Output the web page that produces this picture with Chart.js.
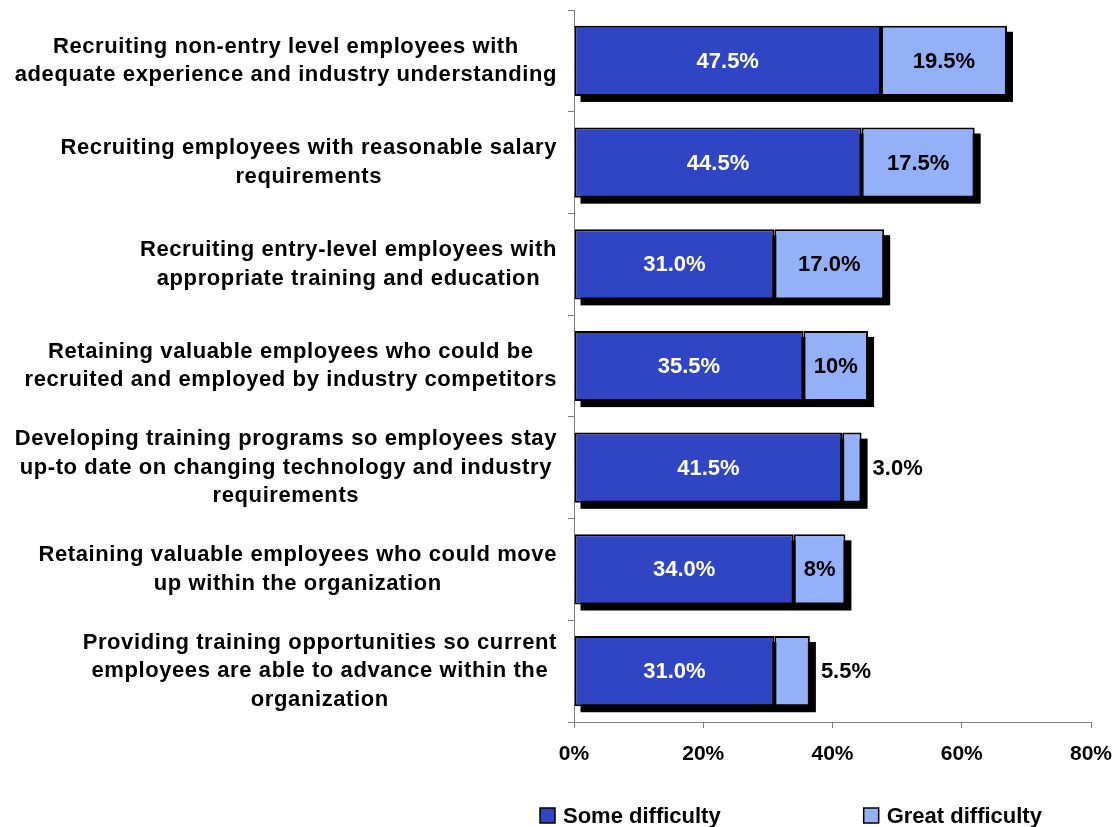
<!DOCTYPE html>
<html><head><meta charset="utf-8">
<script src="https://cdn.jsdelivr.net/npm/chart.js@4/dist/chart.umd.min.js"></script>
<style>html,body{margin:0;padding:0;background:#fff}</style>
</head><body>
<canvas id="c" width="1113" height="827"></canvas>
<script>
const categories = [
  ["Recruiting non-entry level employees with", "adequate experience and industry understanding"],
  ["Recruiting employees with reasonable salary", "requirements"],
  ["Recruiting entry-level employees with", "appropriate training and education"],
  ["Retaining valuable employees who could be", "recruited and employed by industry competitors"],
  ["Developing training programs so employees stay", "up-to date on changing technology and industry", "requirements"],
  ["Retaining valuable employees who could move", "up within the organization"],
  ["Providing training opportunities so current", "employees are able to advance within the", "organization"]
];
const someDifficulty = [47.5, 44.5, 31.0, 35.5, 41.5, 34.0, 31.0];
const greatDifficulty = [19.5, 17.5, 17.0, 10, 3.0, 8, 5.5];
const someLabels = ["47.5%", "44.5%", "31.0%", "35.5%", "41.5%", "34.0%", "31.0%"];
const greatLabels = ["19.5%", "17.5%", "17.0%", "10%", "3.0%", "8%", "5.5%"];
const seriesNames = ["Some difficulty", "Great difficulty"];
const xMin = 0, xMax = 80, xStep = 20;

const FONT = '"Liberation Sans", Arial, sans-serif';
const DARK = '#3045C4';
const LIGHT = '#93B0F8';
const AXIS = '#808080';

const decor = {
  id: 'decor',
  beforeDatasetsDraw(chart) {
    const ctx = chart.ctx;
    const m0 = chart.getDatasetMeta(0), m1 = chart.getDatasetMeta(1);
    ctx.save();
    ctx.fillStyle = '#000';
    m0.data.forEach((el, i) => {
      const end = m1.data[i];
      const left = el.base, right = end.x;
      const top = el.y - el.height / 2, h = el.height;
      ctx.fillRect(left + 6, top + 6, right - left, h);
    });
    ctx.restore();
  },
  afterDatasetsDraw(chart) {
    const ctx = chart.ctx;
    const m0 = chart.getDatasetMeta(0), m1 = chart.getDatasetMeta(1);
    ctx.save();
    ctx.font = 'bold 22px ' + FONT;
    ctx.textBaseline = 'middle';
    const sets = [[m0, someLabels, '#fff'], [m1, greatLabels, '#000']];
    sets.forEach(([meta, labels, color]) => {
      meta.data.forEach((el, i) => {
        const txt = labels[i];
        const w = ctx.measureText(txt).width;
        const segW = Math.abs(el.x - el.base);
        if (w + 8 < segW) {
          ctx.fillStyle = color;
          ctx.textAlign = 'center';
          ctx.fillText(txt, (el.x + el.base) / 2, el.y + 1);
        } else {
          ctx.fillStyle = '#000';
          ctx.textAlign = 'left';
          ctx.fillText(txt, m1.data[i].x + 11, el.y + 1);
        }
      });
    });
    ctx.restore();
  },
  afterDraw(chart) {
    const ctx = chart.ctx;
    const ys = chart.scales.y;
    const area = chart.chartArea;
    ctx.save();
    ctx.font = 'bold 22px ' + FONT;
    ctx.letterSpacing = '0.6px';
    ctx.fillStyle = '#000';
    ctx.textAlign = 'center';
    ctx.textBaseline = 'middle';
    const lineH = 28.5;
    const rightEdge = area.left - 17;
    categories.forEach((lines, i) => {
      const yc = ys.getPixelForValue(i);
      const bw = Math.max(...lines.map(l => ctx.measureText(l).width));
      const cx = rightEdge - bw / 2;
      const y0 = yc - (lines.length - 1) * lineH / 2;
      lines.forEach((l, k) => ctx.fillText(l, cx, y0 + k * lineH));
    });
    // legend
    ctx.font = 'bold 22px ' + FONT;
    ctx.letterSpacing = '0px';
    ctx.textAlign = 'left';
    const colors = [DARK, LIGHT];
    let x = 540;
    const yL = 815.5;
    seriesNames.forEach((name, k) => {
      ctx.fillStyle = colors[k];
      ctx.fillRect(x, yL - 7.5, 15, 15);
      ctx.strokeStyle = '#000';
      ctx.lineWidth = 1.5;
      ctx.strokeRect(x, yL - 7.5, 15, 15);
      ctx.fillStyle = '#000';
      ctx.fillText(name, x + 23, yL + 1);
      x += 23 + ctx.measureText(name).width + 143;
    });
    ctx.restore();
  }
};

new Chart(document.getElementById('c'), {
  type: 'bar',
  data: {
    labels: categories,
    datasets: [
      { label: seriesNames[0], data: someDifficulty, backgroundColor: DARK, borderColor: '#000', borderWidth: 2, borderSkipped: false },
      { label: seriesNames[1], data: greatDifficulty, backgroundColor: LIGHT, borderColor: '#000', borderWidth: 2, borderSkipped: false }
    ]
  },
  options: {
    indexAxis: 'y',
    responsive: false,
    animation: false,
    events: [],
    layout: { padding: { top: 10, right: 22, left: 0, bottom: 0 } },
    datasets: { bar: { barPercentage: 0.69, categoryPercentage: 1 } },
    plugins: { legend: { display: false }, tooltip: { enabled: false } },
    scales: {
      x: {
        stacked: true, min: xMin, max: xMax,
        afterFit(s) { s.height = 105; s.paddingLeft = 0; s.paddingRight = 0; },
        ticks: { stepSize: xStep, callback: v => v + '%', color: '#000', font: { family: FONT, weight: 'bold', size: 21 }, padding: 14, maxRotation: 0 },
        grid: { drawOnChartArea: false, tickLength: 6, color: AXIS },
        border: { color: AXIS, width: 1 }
      },
      y: {
        stacked: true,
        afterFit(s) { s.width = 574; },
        ticks: { display: false },
        grid: { offset: true, drawOnChartArea: false, tickLength: 6, color: AXIS },
        border: { color: AXIS, width: 1 }
      }
    }
  },
  plugins: [decor]
});
</script>
</body></html>
